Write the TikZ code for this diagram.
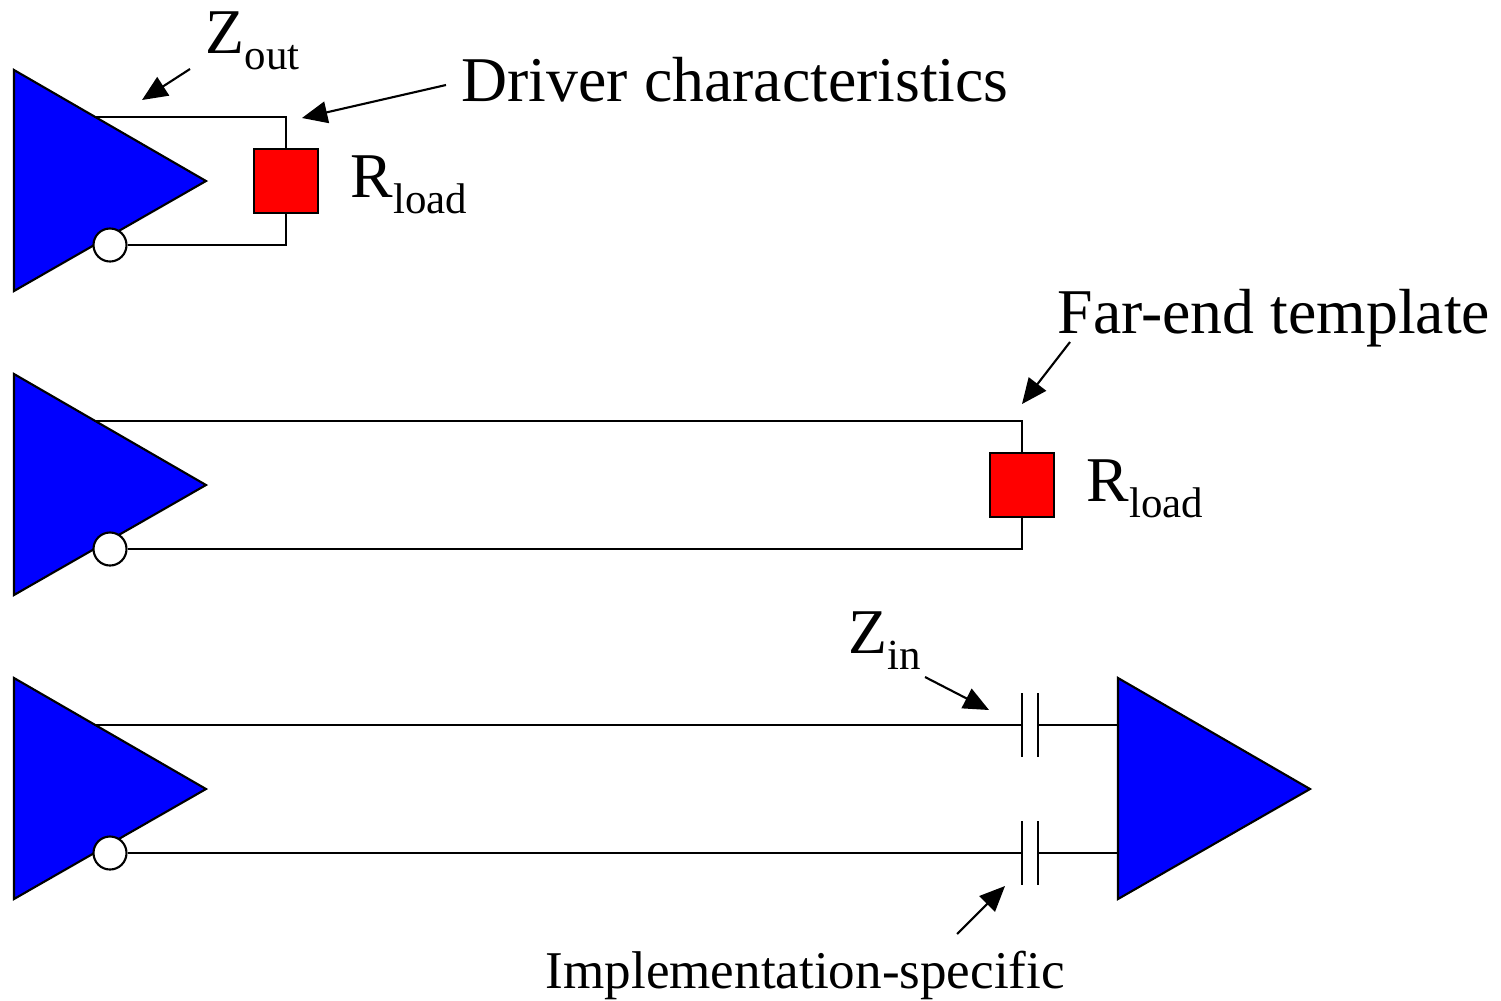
\documentclass[tikz,border=0pt]{standalone}
\usepackage{fontspec}
\setmainfont{Liberation Serif}
\usetikzlibrary{arrows.meta}
\newcommand{\sublabel}[2]{#1{\fontsize{12.2}{12}\selectfont\raisebox{-0.16cm}{#2}}}
\tikzset{
amp/.style={draw=black, line width=0.6pt, fill=blue, line join=miter},
wire/.style={draw=black, line width=0.6pt},
loadbox/.style={draw=black, line width=0.6pt, fill=red, rectangle, minimum size=0.64cm, inner sep=0pt},
bubble/.style={draw=black, line width=0.6pt, fill=white, circle, minimum size=0.33cm, inner sep=0pt},
note/.style={inner sep=0pt, anchor=base west, font=\fontsize{18.13}{20}\selectfont},
smallnote/.style={inner sep=0pt, anchor=base west, font=\fontsize{15.1}{18}\selectfont},
arrow/.style={line width=0.6pt, -{Triangle[length=7.2pt, width=6.2pt]}}
}
\begin{document}
\begin{tikzpicture}[x=0.01cm, y=-0.01cm]
\useasboundingbox (0,0) rectangle (1501,1000);
% drivers
\foreach \n/\y in {1/0, 2/304, 3/608} {
    \draw[amp] (14,70+\y) -- (206,181+\y) -- (14,291+\y) -- cycle;
    \coordinate (top\n) at (94,117+\y);
    \node[bubble] (neg\n) at (110,245+\y) {};
}
% receiver
\draw[amp] (1118,678) -- (1310,789) -- (1118,899) -- cycle;
\coordinate (rxtop) at (1118,725);
\coordinate (rxbot) at (1118,853);
% loads
\node[loadbox] (load1) at (286,181) {};
\node[loadbox] (load2) at (1022,485) {};
\foreach \n in {1,2} {
    \draw[wire] (top\n) -| (load\n);
    \draw[wire] (neg\n) -| (load\n);
}
% ac coupling
\foreach \c/\yc/\w in {a/725/top3, b/853/neg3} {
    \coordinate (cap\c l) at (1022,\yc);
    \coordinate (cap\c r) at (1038,\yc);
    \draw[wire] (1022,\yc-32) -- (1022,\yc+32);
    \draw[wire] (1038,\yc-32) -- (1038,\yc+32);
    \draw[wire] (\w) -- (cap\c l);
}
\draw[wire] (capar) -- (rxtop);
\draw[wire] (capbr) -- (rxbot);
% labels
\node[note] (zout) at (205,53) {\sublabel{Z}{out}};
\node[note] (driver) at (461,101) {Driver characteristics};
\node[note] (rload1) at (350,197) {\sublabel{R}{load}};
\node[note] (farend) at (1057,333) {Far-end template};
\node[note] (rload2) at (1086,501) {\sublabel{R}{load}};
\node[note] (zin) at (848,653) {\sublabel{Z}{in}};
\node[smallnote] (impl) at (545,988) {Implementation-specific};
% arrows
\coordinate (zoutfrom) at (190,69);
\coordinate (zoutto) at (142,100);
\coordinate (driverfrom) at (446,85);
\coordinate (driverto) at (302,118);
\coordinate (farfrom) at (1070,342);
\coordinate (farto) at (1022,404);
\coordinate (zinfrom) at (925,677);
\coordinate (zinto) at (989,710);
\coordinate (implfrom) at (957,934);
\coordinate (implto) at (1005,886);
\draw[arrow] (zoutfrom) -- (zoutto);
\draw[arrow] (driverfrom) -- (driverto);
\draw[arrow] (farfrom) -- (farto);
\draw[arrow] (zinfrom) -- (zinto);
\draw[arrow] (implfrom) -- (implto);
\end{tikzpicture}
\end{document}
